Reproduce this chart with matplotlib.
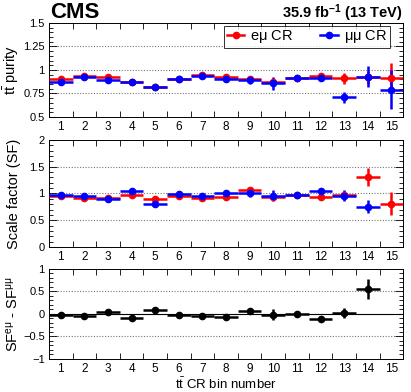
import numpy as np
import matplotlib.pyplot as plt
from matplotlib.lines import Line2D
from matplotlib.ticker import MultipleLocator, FixedLocator

plt.rcParams['font.family'] = ['Liberation Sans', 'DejaVu Sans']
plt.rcParams['mathtext.fontset'] = 'custom'
plt.rcParams['mathtext.rm'] = 'Liberation Sans'
plt.rcParams['mathtext.it'] = 'Liberation Sans'
plt.rcParams['mathtext.bf'] = 'Liberation Sans:bold'

bins = np.arange(1, 16)

# ttbar purity
pur_em = [0.905, 0.94, 0.923, 0.875, 0.82, 0.906, 0.944, 0.923, 0.906, 0.868, 0.91, 0.94, 0.91, 0.923, 0.91]
pur_em_err = [0.015, 0.015, 0.015, 0.015, 0.02, 0.015, 0.015, 0.02, 0.02, 0.02, 0.015, 0.015, 0.06, 0.07, 0.16]
pur_mm = [0.87, 0.93, 0.896, 0.868, 0.82, 0.90, 0.937, 0.90, 0.89, 0.86, 0.91, 0.91, 0.71, 0.93, 0.79]
pur_mm_err = [0.02, 0.02, 0.02, 0.025, 0.035, 0.015, 0.015, 0.03, 0.04, 0.07, 0.015, 0.02, 0.06, 0.11, 0.21]

# scale factors (no mumu value in bin 15)
sf_em = [0.95, 0.92, 0.92, 0.97, 0.90, 0.96, 0.91, 0.93, 1.06, 0.94, 0.975, 0.93, 0.975, 1.31, 0.81]
sf_em_err = [0.02, 0.02, 0.02, 0.03, 0.03, 0.02, 0.02, 0.02, 0.06, 0.03, 0.02, 0.02, 0.04, 0.17, 0.21]
sf_mm = [0.98, 0.96, 0.90, 1.04, 0.81, 0.99, 0.95, 1.0, 1.0, 0.96, 0.975, 1.04, 0.96, 0.75, np.nan]
sf_mm_err = [0.02, 0.02, 0.03, 0.04, 0.05, 0.02, 0.02, 0.04, 0.06, 0.10, 0.02, 0.02, 0.10, 0.12, np.nan]

# difference
diff = [-0.03, -0.045, 0.04, -0.08, 0.09, -0.03, -0.05, -0.07, 0.06, -0.015, 0.01, -0.11, 0.02, 0.56, np.nan]
diff_err = [0.02, 0.02, 0.02, 0.04, 0.06, 0.02, 0.02, 0.04, 0.07, 0.12, 0.02, 0.02, 0.12, 0.22, np.nan]

RED = '#ff0000'
BLUE = '#0000ff'

fig = plt.figure(figsize=(4.11, 3.92), dpi=100)
L, W = 0.119, 0.862
ax1 = fig.add_axes([L, 0.7015, W, 0.240])
ax2 = fig.add_axes([L, 0.370, W, 0.273])
ax3 = fig.add_axes([L, 0.0842, W, 0.2296])


def style(ax, ylo, yhi, major, minor, labels, grid):
    ax.set_xlim(0.5, 15.5)
    ax.set_ylim(ylo, yhi)
    ax.xaxis.set_major_locator(FixedLocator(bins))
    ax.set_xticklabels([str(b) for b in bins])
    ax.xaxis.set_minor_locator(FixedLocator(np.arange(0.5, 16, 1)))
    ax.tick_params(axis='x', which='major', length=0, labelsize=8.5, pad=3)
    ax.tick_params(axis='x', which='minor', length=4, top=True, direction='in', width=0.6)
    ax.yaxis.set_major_locator(FixedLocator(major))
    ax.set_yticklabels(labels)
    ax.yaxis.set_minor_locator(MultipleLocator(minor))
    ax.tick_params(axis='y', which='major', length=6, right=True, direction='in',
                   labelsize=8, width=0.6, pad=3)
    ax.tick_params(axis='y', which='minor', length=3, right=True, direction='in', width=0.6)
    for s in ax.spines.values():
        s.set_linewidth(0.7)
    for g in grid:
        ax.axhline(g, color='#777777', ls=(0, (1, 1.5)), lw=0.8, zorder=0)


def draw(ax, y, err, c):
    ax.errorbar(bins, y, xerr=0.5, yerr=err, fmt='o', color=c, ms=4.5, lw=1.8,
                capsize=0, zorder=3)


style(ax1, 0.5, 1.5, [0.5, 0.75, 1, 1.25, 1.5], 0.05,
      ['0.5', '0.75', '1', '1.25', '1.5'], [0.75, 1.0, 1.25])
draw(ax1, pur_em, pur_em_err, RED)
draw(ax1, pur_mm, pur_mm_err, BLUE)
ax1.set_ylabel(r'$\mathrm{t\bar{t}}$ purity', fontsize=10.5)
handles = [Line2D([], [], color=RED, marker='o', ms=4.5, lw=1.8),
           Line2D([], [], color=BLUE, marker='o', ms=4.5, lw=1.8)]
leg = ax1.legend(handles, [r'e$\mu$ CR', r'$\mu\mu$ CR'], loc='center', ncol=2,
                 mode='expand', bbox_to_anchor=(0.494, 0.745, 0.469, 0.212),
                 fontsize=10.5, frameon=True, fancybox=False, edgecolor='black',
                 borderaxespad=0, borderpad=0.2, handlelength=1.2, handletextpad=0.4,
                 columnspacing=1.5)
leg.get_frame().set_linewidth(0.7)

style(ax2, 0, 2, [0, 0.5, 1, 1.5, 2], 0.1,
      ['0', '0.5', '1', '1.5', '2'], [0.5, 1.0, 1.5])
draw(ax2, sf_em, sf_em_err, RED)
draw(ax2, sf_mm, sf_mm_err, BLUE)
ax2.set_ylabel('Scale factor (SF)', fontsize=10.5)

style(ax3, -1, 1, [-1, -0.5, 0, 0.5, 1], 0.1,
      ['\u22121', '\u22120.5', '0', '0.5', '1'], [-0.5, 0.5])
ax3.axhline(0, color='black', lw=0.8, zorder=1)
draw(ax3, diff, diff_err, 'black')
ax3.set_ylabel(r'SF$^{\mathrm{e}\mu}$ - SF$^{\mu\mu}$', fontsize=10.5)
ax3.set_xlabel(r'$\mathrm{t\bar{t}}$ CR bin number', fontsize=9.5, labelpad=1)

for ax in (ax1, ax2, ax3):
    ax.yaxis.set_label_coords(-0.08, 0.5)

fig.text(L + 0.002, 0.954, 'CMS', fontsize=16, fontweight='bold', ha='left', va='baseline')
fig.text(L + W, 0.954, r'35.9 fb$^{\mathbf{-1}}$ (13 TeV)', fontsize=10.5, fontweight='bold',
         ha='right', va='baseline')

fig.savefig('out.png', dpi=100)
